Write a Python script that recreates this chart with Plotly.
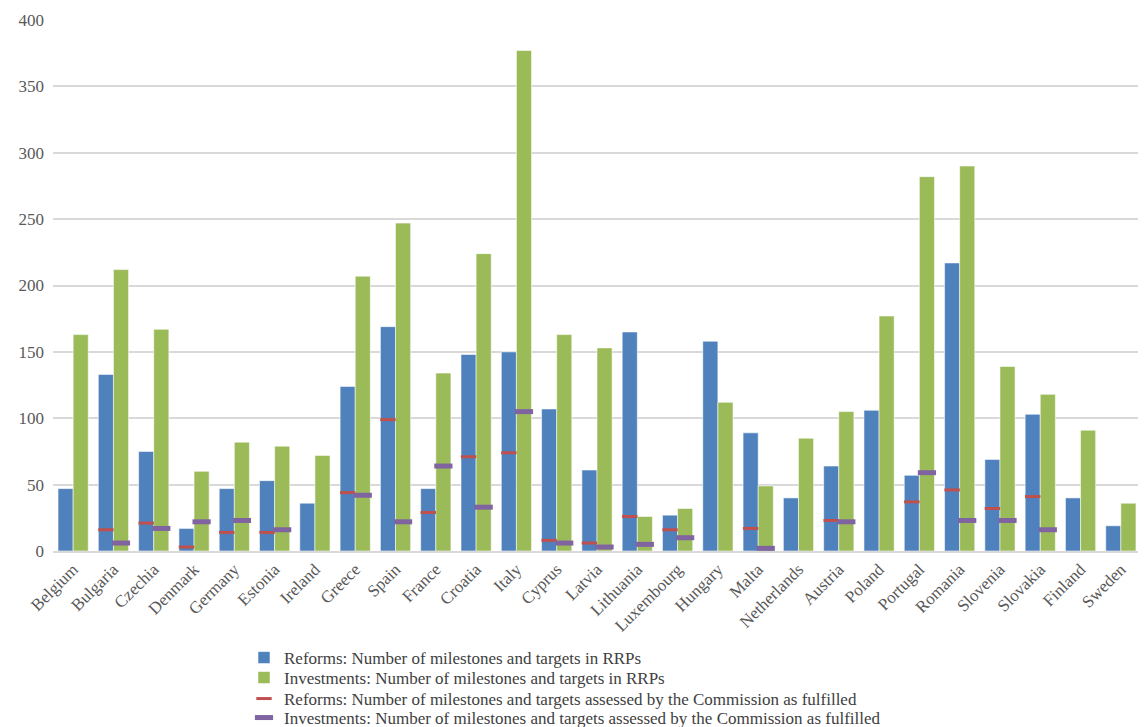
import plotly.graph_objects as go

countries = ["Belgium", "Bulgaria", "Czechia", "Denmark", "Germany", "Estonia", "Ireland",
             "Greece", "Spain", "France", "Croatia", "Italy", "Cyprus", "Latvia", "Lithuania",
             "Luxembourg", "Hungary", "Malta", "Netherlands", "Austria", "Poland", "Portugal",
             "Romania", "Slovenia", "Slovakia", "Finland", "Sweden"]

reforms_total = [47, 133, 75, 17, 47, 53, 36, 124, 169, 47, 148, 150, 107, 61, 165,
                 27, 158, 89, 40, 64, 106, 57, 217, 69, 103, 40, 19]
investments_total = [163, 212, 167, 60, 82, 79, 72, 207, 247, 134, 224, 377, 163, 153, 26,
                     32, 112, 49, 85, 105, 177, 282, 290, 139, 118, 91, 36]
reforms_fulfilled = [None, 16, 21, 3, 14, 14, None, 44, 99, 29, 71, 74, 8, 6, 26,
                     16, None, 17, None, 23, None, 37, 46, 32, 41, None, None]
investments_fulfilled = [None, 6, 17, 22, 23, 16, None, 42, 22, 64, 33, 105, 6, 3, 5,
                         10, None, 2, None, 22, None, 59, 23, 23, 16, None, None]

names = ["Reforms: Number of milestones and targets in RRPs",
         "Investments: Number of milestones and targets in RRPs",
         "Reforms: Number of milestones and targets assessed by the Commission as fulfilled",
         "Investments: Number of milestones and targets assessed by the Commission as fulfilled"]

BLUE, GREEN, RED, PURPLE = "#4F81BD", "#9BBB59", "#C0504D", "#8064A2"
GAP = 0.25
FONT = "Liberation Serif, Times New Roman, serif"
W, H = 1138, 719  # page body adds an 8px margin

fig = go.Figure()
fig.add_trace(go.Bar(x=countries, y=reforms_total, name=names[0], legend="legend",
                     marker=dict(color=BLUE, line=dict(color="rgba(255,255,255,0.55)", width=1))))
fig.add_trace(go.Bar(x=countries, y=investments_total, name=names[1], legend="legend2",
                     marker=dict(color=GREEN, line=dict(color="rgba(255,255,255,0.55)", width=1))))
fig.add_trace(go.Scatter(x=countries, y=reforms_fulfilled, name=names[2], mode="markers",
                         legend="legend3",
                         marker=dict(symbol="line-ew", size=11, color=RED,
                                     line=dict(color=RED, width=3))))
fig.add_trace(go.Scatter(x=countries, y=investments_fulfilled, name=names[3], mode="markers",
                         legend="legend4",
                         marker=dict(symbol="line-ew", size=13, color=PURPLE,
                                     line=dict(color=PURPLE, width=5))))

leg_centers = [650, 670, 691, 710]  # figure pixel rows of legend entries


def leg(yc):
    return dict(xref="container", yref="container", x=236 / W, y=1 - yc / H,
                xanchor="left", yanchor="middle", orientation="v",
                font=dict(family=FONT, size=17, color="#404040"), bgcolor="rgba(0,0,0,0)",
                itemwidth=30, borderwidth=0)


fig.update_layout(
    width=W, height=H,
    barmode="group", bargap=GAP, bargroupgap=0,
    scattermode="group", scattergap=GAP,
    plot_bgcolor="white", paper_bgcolor="white",
    margin=dict(l=45, r=5, t=12, b=H - 543, autoexpand=False),
    font=dict(family=FONT, size=17, color="#595959"),
    showlegend=True,
    legend=leg(leg_centers[0]), legend2=leg(leg_centers[1]),
    legend3=leg(leg_centers[2]), legend4=leg(leg_centers[3]),
    xaxis=dict(type="category", tickangle=-45, showgrid=False, showline=True,
               linecolor="#d9d9d9", linewidth=1.5, ticks="", automargin=False,
               tickfont=dict(family=FONT, size=17, color="#595959")),
    yaxis=dict(range=[0, 400], dtick=50, showgrid=True, gridcolor="#d9d9d9", gridwidth=1.5,
               zeroline=False, showline=False, ticks="", automargin=False,
               ticklabelstandoff=8,
               tickfont=dict(family=FONT, size=17, color="#595959")),
)

fig.write_html("out.html")
